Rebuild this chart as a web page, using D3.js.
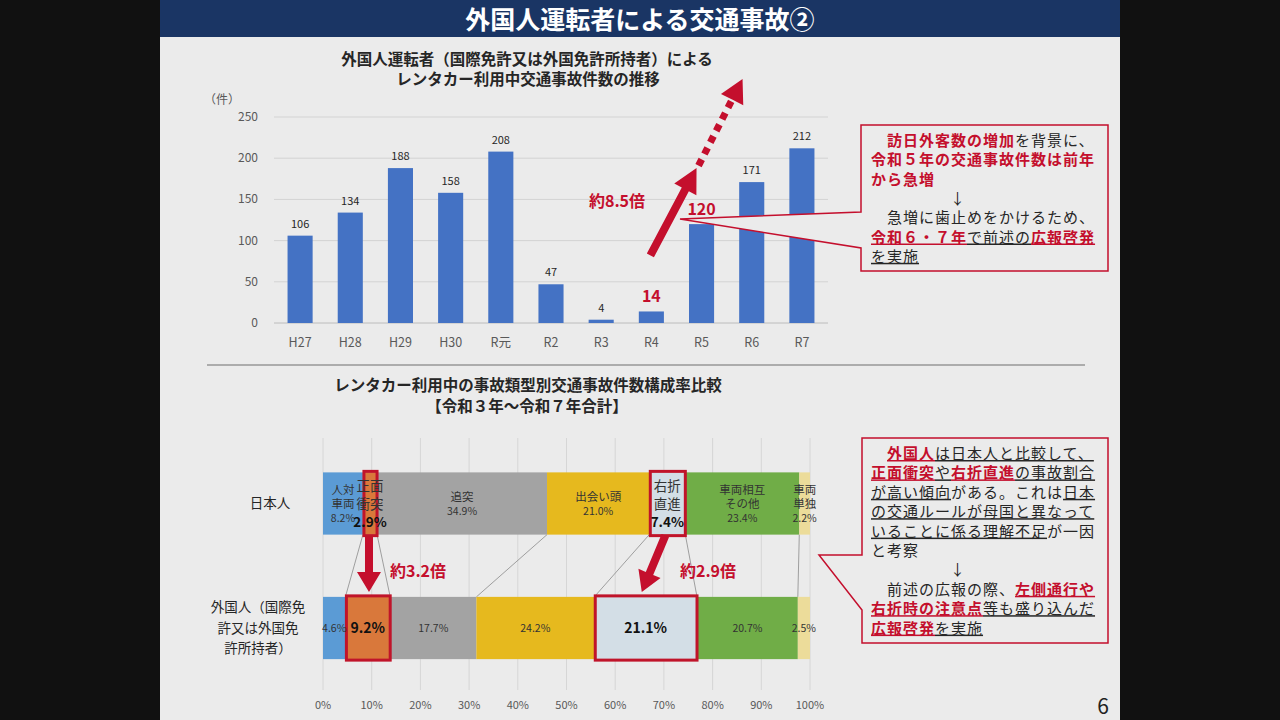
<!DOCTYPE html>
<html lang="ja">
<head>
<meta charset="utf-8">
<script src="https://cdn.jsdelivr.net/npm/d3@7"></script>
<style>
  body { margin: 0; background: #111; }
  svg { display: block; font-family: "Noto Sans CJK JP", "Noto Sans", sans-serif; }
</style>
</head>
<body>
<div id="main"></div>
<script>
// ---- data ----
const years = ["H27", "H28", "H29", "H30", "R元", "R2", "R3", "R4", "R5", "R6", "R7"];
const accidents = [106, 134, 188, 158, 208, 47, 4, 14, 120, 171, 212];
const emphYears = ["R4", "R5"];

const groups = ["日本人", "外国人"];
const accidentTypes = ["人対車両", "正面衝突", "追突", "出会い頭", "右折直進", "車両相互その他", "車両単独"];
const typeLines = [["人対", "車両"], ["正面", "衝突"], ["追突"], ["出会い頭"], ["右折", "直進"], ["車両相互", "その他"], ["車両", "単独"]];
const jpShare = [8.2, 2.9, 34.9, 21.0, 7.4, 23.4, 2.2];
const fgShare = [4.6, 9.2, 17.7, 24.2, 21.1, 20.7, 2.5];
const highlightTypes = ["正面衝突", "右折直進"];
const typeColors = ["#5b9bd5", "#d9783b", "#a3a3a3", "#e6b91e", "#d3dee6", "#70ad47", "#ecdc9a"];

// callout texts: [text, red?, underline?]
const note1 = [
    [["　", 0, 0], ["訪日外客数の増加", 1, 0], ["を背景に、", 0, 0]],
    [["令和５年の交通事故件数は前年", 1, 0]],
    [["から急増", 1, 0]],
    "↓",
    [["　急増に歯止めをかけるため、", 0, 0]],
    [["令和６・７年", 1, 1], ["で前述の", 0, 1], ["広報啓発", 1, 1]],
    [["を実施", 0, 1]]
];
const note2 = [
    [["　", 0, 0], ["外国人", 1, 1], ["は日本人と比較して、", 0, 1]],
    [["正面衝突", 1, 1], ["や", 0, 1], ["右折直進", 1, 1], ["の事故割合", 0, 1]],
    [["が高い傾向", 0, 1], ["がある。これは", 0, 0], ["日本", 0, 1]],
    [["の交通ルールが母国と異なって", 0, 1]],
    [["いることに係る理解不足", 0, 1], ["が一因", 0, 0]],
    [["と考察", 0, 0]],
    "↓",
    [["　前述の広報の際、", 0, 0], ["左側通行や", 1, 1]],
    [["右折時の注意点", 1, 1], ["等も盛り込んだ", 0, 1]],
    [["広報啓発", 1, 1], ["を実施", 0, 1]]
];

const RED = "#c40f2d";
const TXT = "#262626";
const BG = "#ebebeb";

const svg = d3.select("#main").append("svg")
    .attr("width", 1280)
    .attr("height", 720);

svg.append("rect").attr("width", 1280).attr("height", 720).attr("fill", "#111");
svg.append("rect").attr("x", 160).attr("width", 960).attr("height", 720).attr("fill", BG);
svg.append("rect").attr("x", 160).attr("width", 960).attr("height", 37).attr("fill", "#1a3564");
svg.append("text")
    .attr("x", 640).attr("y", 29)
    .attr("text-anchor", "middle")
    .attr("fill", "#fff")
    .style("font-size", "25px").style("font-weight", "bold")
    .text("外国人運転者による交通事故②");

function arrowPath(x1, y1, x2, y2, sw, hw, hl) {
    const dx = x2 - x1, dy = y2 - y1, L = Math.hypot(dx, dy);
    const ux = dx / L, uy = dy / L, nx = -uy, ny = ux;
    const bx = x2 - ux * hl, by = y2 - uy * hl;
    const pts = [
        [x1 + nx * sw / 2, y1 + ny * sw / 2],
        [bx + nx * sw / 2, by + ny * sw / 2],
        [bx + nx * hw / 2, by + ny * hw / 2],
        [x2, y2],
        [bx - nx * hw / 2, by - ny * hw / 2],
        [bx - nx * sw / 2, by - ny * sw / 2],
        [x1 - nx * sw / 2, y1 - ny * sw / 2]
    ];
    return "M" + pts.map(p => p.join(",")).join("L") + "Z";
}

function drawNote(lines, x0, y0, lh, arrowX) {
    lines.forEach((line, i) => {
        const t = svg.append("text")
            .attr("x", line === "↓" ? arrowX : x0)
            .attr("y", y0 + i * lh)
            .attr("text-anchor", line === "↓" ? "middle" : "start")
            .style("font-size", "15px")
            .style("letter-spacing", "1px");
        if (line === "↓") {
            t.attr("fill", TXT).text("↓");
            return;
        }
        line.forEach(seg => {
            t.append("tspan")
                .attr("fill", seg[1] ? RED : TXT)
                .style("font-weight", seg[1] ? "bold" : "normal")
                .style("text-decoration", seg[2] ? "underline" : "none")
                .text(seg[0]);
        });
    });
}

// ---- top chart ----
svg.append("text").attr("x", 527).attr("y", 65).attr("text-anchor", "middle")
    .attr("fill", TXT).style("font-size", "15.5px").style("font-weight", "bold")
    .text("外国人運転者（国際免許又は外国免許所持者）による");
svg.append("text").attr("x", 528).attr("y", 85).attr("text-anchor", "middle")
    .attr("fill", TXT).style("font-size", "15.5px").style("font-weight", "bold")
    .text("レンタカー利用中交通事故件数の推移");

const xTop = d3.scaleBand().domain(years).range([275, 827]).paddingInner(0.5).paddingOuter(0.25);
const yTop = d3.scaleLinear().domain([0, 250]).range([323, 117]);
const xc = d => xTop(d) + xTop.bandwidth() / 2;

svg.append("text").attr("x", 222).attr("y", 104).attr("text-anchor", "middle")
    .attr("fill", "#595959").style("font-size", "12px").text("（件）");

svg.append("g").selectAll("line")
    .data(yTop.ticks(5))
    .enter().append("line")
    .attr("x1", 274).attr("x2", 828)
    .attr("y1", d => yTop(d)).attr("y2", d => yTop(d))
    .attr("stroke", d => d === 0 ? "#bcbcbc" : "#d3d3d3")
    .attr("stroke-width", 1);

svg.append("g").selectAll("text")
    .data(yTop.ticks(5))
    .enter().append("text")
    .attr("x", 258).attr("y", d => yTop(d) + 4)
    .attr("text-anchor", "end")
    .attr("fill", "#595959").style("font-size", "12px")
    .text(d => d);

svg.append("g").selectAll("text")
    .data(years)
    .enter().append("text")
    .attr("x", d => xc(d)).attr("y", 347)
    .attr("text-anchor", "middle")
    .attr("fill", "#595959").style("font-size", "12.5px")
    .text(d => d);

svg.append("g").selectAll("rect")
    .data(years)
    .enter().append("rect")
    .attr("x", d => xTop(d))
    .attr("y", (d, i) => yTop(accidents[i]))
    .attr("width", xTop.bandwidth())
    .attr("height", (d, i) => yTop(0) - yTop(accidents[i]))
    .attr("fill", "#4472c4");

svg.append("g").selectAll("text")
    .data(years)
    .enter().append("text")
    .attr("x", d => xc(d))
    .attr("y", (d, i) => yTop(accidents[i]) - (emphYears.includes(d) ? 9 : 8))
    .attr("text-anchor", "middle")
    .attr("fill", d => emphYears.includes(d) ? RED : TXT)
    .style("font-size", d => emphYears.includes(d) ? "16px" : "11px")
    .style("font-weight", d => emphYears.includes(d) ? "bold" : "normal")
    .text((d, i) => accidents[i]);

// rising arrows
svg.append("path")
    .attr("d", arrowPath(xc("R4") - 1, yTop(82), xc("R5") - 5, yTop(188), 8, 25, 24))
    .attr("fill", RED);
{
    const sx = xc("R5") - 3, sy = yTop(191), tx = xc("R5") + 41, ty = yTop(296);
    const L = Math.hypot(tx - sx, ty - sy), ux = (tx - sx) / L, uy = (ty - sy) / L;
    svg.append("line")
        .attr("x1", sx).attr("y1", sy)
        .attr("x2", tx - ux * 22).attr("y2", ty - uy * 22)
        .attr("stroke", RED).attr("stroke-width", 7)
        .attr("stroke-dasharray", "7,6");
    svg.append("path")
        .attr("d", arrowPath(tx - ux * 23, ty - uy * 23, tx, ty, 0.1, 25, 23))
        .attr("fill", RED);
}
svg.append("text").attr("x", 617).attr("y", 207).attr("text-anchor", "middle")
    .attr("fill", RED).style("font-size", "16px").style("font-weight", "bold")
    .text("約8.5倍");

// callout 1
svg.append("path")
    .attr("d", "M861,125L1108,125L1108,271L861,271L861,248L680,219L861,212Z")
    .attr("fill", BG).attr("stroke", RED).attr("stroke-width", 1.5);
drawNote(note1, 871, 146, 19.3, 958);

// separator
svg.append("line").attr("x1", 207).attr("x2", 1085).attr("y1", 365).attr("y2", 365)
    .attr("stroke", "#6f6f6f").attr("stroke-width", 1.2);

// ---- bottom chart ----
svg.append("text").attr("x", 528).attr("y", 391).attr("text-anchor", "middle")
    .attr("fill", TXT).style("font-size", "15.5px").style("font-weight", "bold")
    .text("レンタカー利用中の事故類型別交通事故件数構成率比較");
svg.append("text").attr("x", 527).attr("y", 412).attr("text-anchor", "middle")
    .attr("fill", TXT).style("font-size", "15.5px").style("font-weight", "bold")
    .text("【令和３年～令和７年合計】");

const xPct = d3.scaleLinear().domain([0, 100]).range([323, 810]);
const yBar = d3.scaleBand().domain(groups).range([441.25, 690.25]).paddingInner(0.5).paddingOuter(0.25);
const pctTicks = xPct.ticks(10);

svg.append("g").selectAll("line")
    .data(pctTicks)
    .enter().append("line")
    .attr("x1", d => xPct(d)).attr("x2", d => xPct(d))
    .attr("y1", 438).attr("y2", 690)
    .attr("stroke", "#d6d6d6");

svg.append("g").selectAll("text")
    .data(pctTicks)
    .enter().append("text")
    .attr("x", d => xPct(d)).attr("y", 709)
    .attr("text-anchor", "middle")
    .attr("fill", "#595959").style("font-size", "11px")
    .text(d => d + "%");

const shares = [jpShare, fgShare];
const stacks = shares.map(s => {
    const ends = Array.from(d3.cumsum(s));
    return s.map((v, i) => ({ type: accidentTypes[i], v, x0: ends[i] - v, x1: ends[i], i }));
});

// series lines between the two bars
const jBottom = yBar("日本人") + yBar.bandwidth();
const fTop = yBar("外国人");
svg.append("g").selectAll("line")
    .data(stacks[0].slice(0, -1))
    .enter().append("line")
    .attr("x1", d => xPct(d.x1)).attr("y1", jBottom)
    .attr("x2", (d, i) => xPct(stacks[1][i].x1)).attr("y2", fTop)
    .attr("stroke", "#8a8a8a").attr("stroke-width", 0.8);

groups.forEach((g, gi) => {
    const y0 = yBar(g), bh = yBar.bandwidth();
    const gg = svg.append("g");
    gg.selectAll("rect")
        .data(stacks[gi])
        .enter().append("rect")
        .attr("x", d => xPct(d.x0)).attr("y", y0)
        .attr("width", d => xPct(d.x1) - xPct(d.x0))
        .attr("height", bh)
        .attr("fill", d => typeColors[d.i]);
    gg.selectAll(".hl")
        .data(stacks[gi].filter(d => highlightTypes.includes(d.type)))
        .enter().append("rect")
        .attr("x", d => xPct(d.x0) + 1).attr("y", y0 - 1)
        .attr("width", d => xPct(d.x1) - xPct(d.x0) - 1)
        .attr("height", bh + 2)
        .attr("fill", "none").attr("stroke", "#c0142a").attr("stroke-width", 3);
});

// segment labels, japanese bar
{
    const cy = yBar("日本人") + yBar.bandwidth() / 2;
    stacks[0].forEach(d => {
        const hl = highlightTypes.includes(d.type);
        const names = typeLines[d.i];
        const x = xPct((d.x0 + d.x1) / 2);
        const lh = hl ? 18 : 14;
        const rows = names.length + 1;
        const top = cy - (rows - 1) * lh / 2;
        names.forEach((n, k) => {
            svg.append("text")
                .attr("x", x).attr("y", top + k * lh + (hl ? 5 : 4))
                .attr("text-anchor", "middle")
                .attr("fill", "#333")
                .style("font-size", hl ? "13.5px" : "11.5px")
                .text(n);
        });
        svg.append("text")
            .attr("x", x).attr("y", top + names.length * lh + (hl ? 5 : 4))
            .attr("text-anchor", "middle")
            .attr("fill", hl ? "#111" : "#333")
            .style("font-size", hl ? "13.5px" : "10.5px")
            .style("font-weight", hl ? "bold" : "normal")
            .text(d.v.toFixed(1) + "%");
    });
}
// segment labels, foreign bar
{
    const cy = yBar("外国人") + yBar.bandwidth() / 2;
    svg.append("g").selectAll("text")
        .data(stacks[1])
        .enter().append("text")
        .attr("x", d => xPct((d.x0 + d.x1) / 2))
        .attr("y", d => cy + (highlightTypes.includes(d.type) ? 5 : 4))
        .attr("text-anchor", "middle")
        .attr("fill", d => highlightTypes.includes(d.type) ? "#111" : "#333")
        .style("font-size", d => highlightTypes.includes(d.type) ? "14px" : "10.5px")
        .style("font-weight", d => highlightTypes.includes(d.type) ? "bold" : "normal")
        .text(d => d.v.toFixed(1) + "%");
}

// category labels
svg.append("text").attr("x", 270).attr("y", 508).attr("text-anchor", "middle")
    .attr("fill", TXT).style("font-size", "13.5px").text("日本人");
["外国人（国際免", "許又は外国免", "許所持者）"].forEach((s, k) => {
    svg.append("text").attr("x", 258).attr("y", 612 + k * 20.5).attr("text-anchor", "middle")
        .attr("fill", TXT).style("font-size", "13.5px").text(s);
});

// down arrows
{
    const j = stacks[0], f = stacks[1];
    const a1 = (j[1].x0 + j[1].x1) / 2;
    svg.append("path")
        .attr("d", arrowPath(xPct(a1) - 1, jBottom + 2, xPct(a1) - 1, fTop - 5, 8, 24, 20))
        .attr("fill", RED);
    const a2s = (j[4].x0 + j[4].x1) / 2;
    const a2e = (f[4].x0 + f[4].x1) / 2 - 1;
    svg.append("path")
        .attr("d", arrowPath(xPct(a2s) - 2, jBottom + 1, xPct(a2e) + 1, fTop - 5, 8, 24, 20))
        .attr("fill", RED);
    svg.append("text").attr("x", 418).attr("y", 577).attr("text-anchor", "middle")
        .attr("fill", RED).style("font-size", "16px").style("font-weight", "bold").text("約3.2倍");
    svg.append("text").attr("x", 708).attr("y", 577).attr("text-anchor", "middle")
        .attr("fill", RED).style("font-size", "16px").style("font-weight", "bold").text("約2.9倍");
}

// callout 2
svg.append("path")
    .attr("d", "M862,438L1108,438L1108,643L862,643L862,610L819,555L862,555Z")
    .attr("fill", BG).attr("stroke", RED).attr("stroke-width", 1.5);
drawNote(note2, 871, 459, 19.4, 958);

svg.append("text").attr("x", 1103).attr("y", 714).attr("text-anchor", "middle")
    .attr("fill", "#222").style("font-size", "21px").text("6");
</script>
</body>
</html>
